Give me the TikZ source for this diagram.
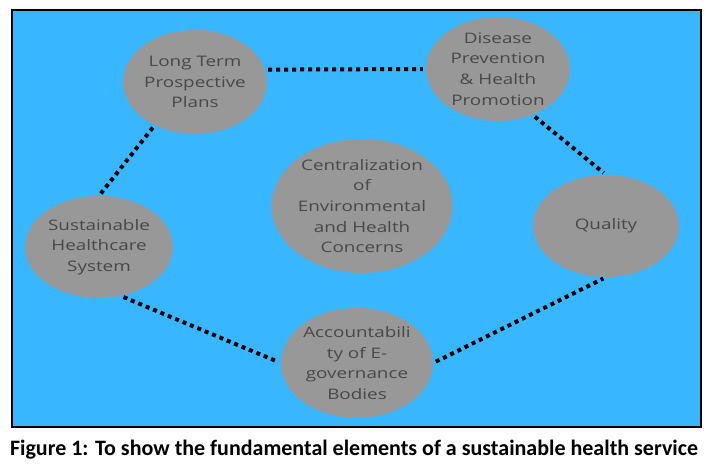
\documentclass[tikz,border=0pt]{standalone}
\usepackage{fontspec}
\setmainfont{Open Sans}
\newfontfamily\bubblefont[FakeStretch=1.3]{Open Sans}
\newfontfamily\capfont{Carlito}
\usetikzlibrary{shapes.geometric}
\definecolor{skyblue}{RGB}{56,182,255}
\definecolor{bubblegray}{RGB}{152,152,152}
\definecolor{bubbletext}{RGB}{72,72,72}

\begin{document}
\begin{tikzpicture}[
    x=1pt, y=-1pt,
    bubble/.style={ellipse, fill=bubblegray, inner sep=0pt, align=center, text=bubbletext, font=\bubblefont\fontsize{14.5}{20.7}\selectfont},
    link/.style={line width=4pt, dash pattern=on 4pt off 4pt, shorten >=3pt, shorten <=3pt},
]
    \useasboundingbox (0,0) rectangle (709,466);
    \fill[white] (0,0) rectangle (709,466);
    \draw[fill=skyblue, line width=1.2pt] (12,10) rectangle (701,427);

    \node[bubble, minimum width=144pt, minimum height=104pt] (plans)   at (195,82)  {Long Term\\Prospective\\Plans};
    \node[bubble, minimum width=144pt, minimum height=104pt] (disease) at (498,69)  {Disease\\Prevention\\\& Health\\Promotion};
    \node[bubble, minimum width=146pt, minimum height=102pt] (quality) at (606,226) {Quality};
    \node[bubble, minimum width=148pt, minimum height=102pt] (system)  at (99,247)  {Sustainable\\Healthcare\\System};
    \node[bubble, minimum width=152pt, minimum height=110pt] (account) at (357,363) {Accountabili\\ty of E-\\governance\\Bodies};
    \node[bubble, minimum width=180pt, minimum height=134pt] (central) at (362,206) {Centralization\\of\\Environmental\\and Health\\Concerns};

    \draw[link] (plans.10)   -- (disease.west);
    \draw[link] (plans.227)  -- (system.north);
    \draw[link] (disease.307) -- (quality.north);
    \draw[link] (system.294) -- (account.west);
    \draw[link] (account.east) -- (quality.south);

    \node[anchor=base, font=\capfont\bfseries\fontsize{22}{26}\selectfont] (caption) at (354,455)
        {Figure 1: To show the fundamental elements of a sustainable health service};
\end{tikzpicture}
\end{document}
